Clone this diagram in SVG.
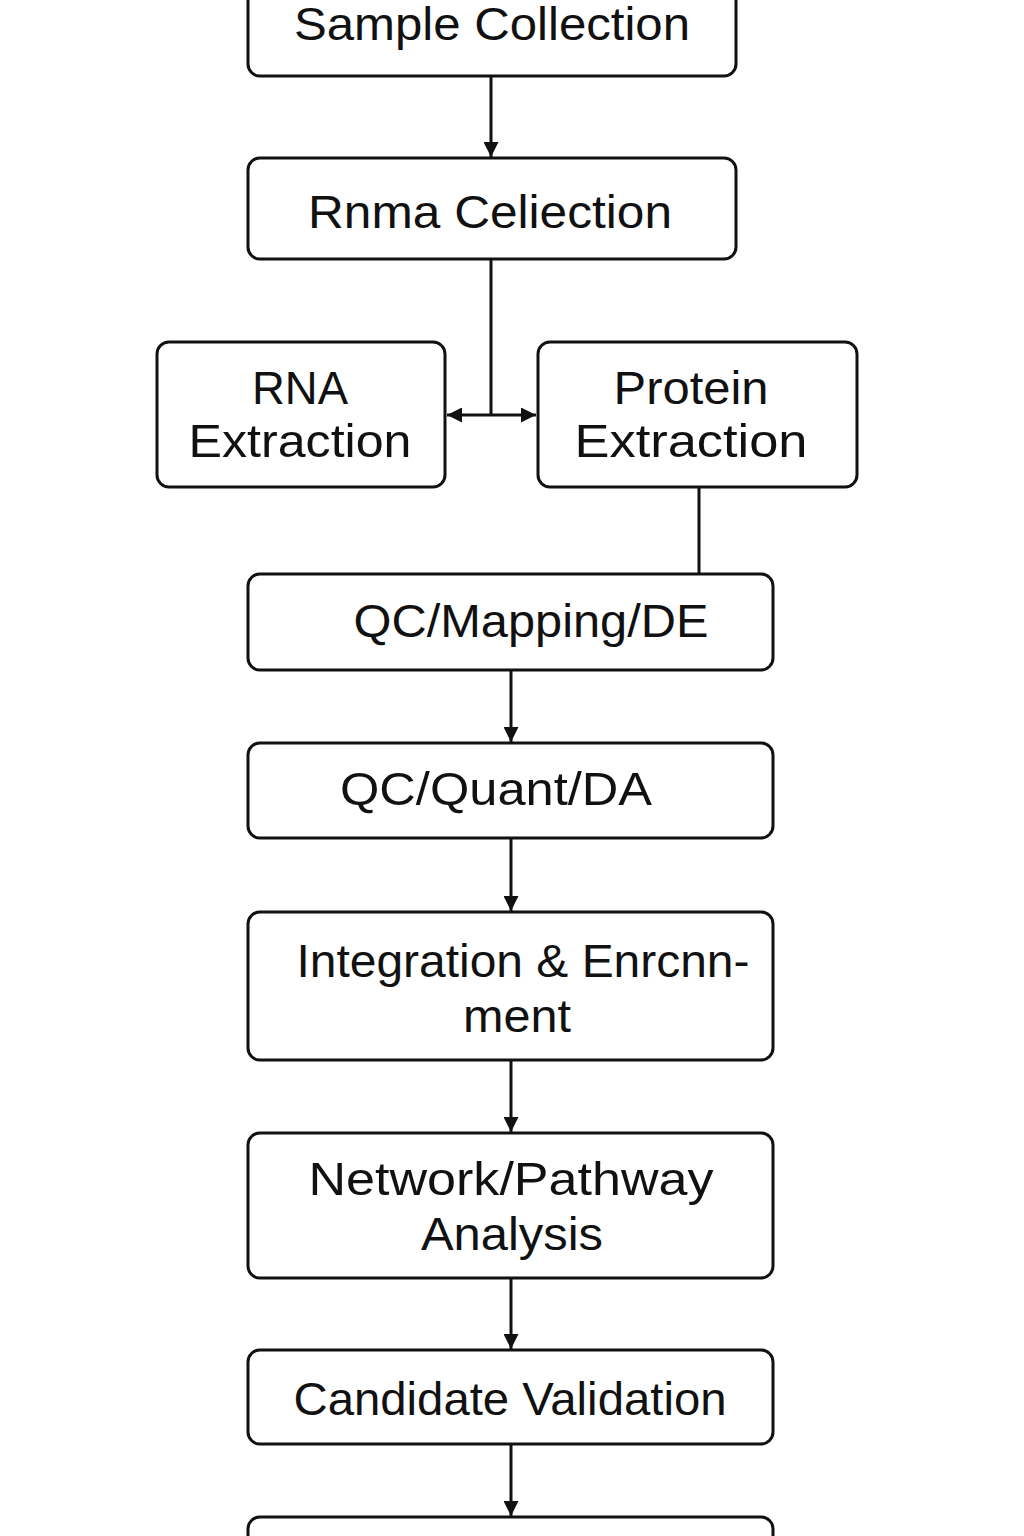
<svg xmlns="http://www.w3.org/2000/svg" width="1024" height="1536" viewBox="0 0 1024 1536">
<defs>
<marker id="ah" viewBox="0 0 10 10" refX="10" refY="5" markerWidth="5" markerHeight="5" markerUnits="strokeWidth" orient="auto-start-reverse">
<path d="M0,0 L10,5 L0,10 z" fill="#111"/>
</marker>
<style>
.box{fill:#fff;stroke:#111;stroke-width:3}
.t{font-family:"Liberation Sans",Arial,sans-serif;font-size:46px;fill:#111;text-anchor:middle}
.c{stroke:#111;stroke-width:3;fill:none}
</style>
</defs>
<rect width="1024" height="1536" fill="#fff"/>
<g id="connectors">
<line class="c" x1="491" y1="76" x2="491" y2="157" marker-end="url(#ah)"/>
<line class="c" x1="491" y1="259" x2="491" y2="415"/>
<line class="c" x1="447" y1="415" x2="536" y2="415" marker-start="url(#ah)" marker-end="url(#ah)"/>
<line class="c" x1="699" y1="487" x2="699" y2="574"/>
<line class="c" x1="511" y1="670" x2="511" y2="742" marker-end="url(#ah)"/>
<line class="c" x1="511" y1="838" x2="511" y2="911" marker-end="url(#ah)"/>
<line class="c" x1="511" y1="1060" x2="511" y2="1132" marker-end="url(#ah)"/>
<line class="c" x1="511" y1="1278" x2="511" y2="1349" marker-end="url(#ah)"/>
<line class="c" x1="511" y1="1444" x2="511" y2="1516" marker-end="url(#ah)"/>
</g>
<g id="sample-collection">
<rect class="box" x="248" y="-20" width="488" height="96" rx="12"/>
<text class="t" x="492" y="40" textLength="396" lengthAdjust="spacingAndGlyphs">Sample Collection</text>
</g>
<g id="rnma-collection">
<rect class="box" x="248" y="158" width="488" height="101" rx="12"/>
<text class="t" x="490" y="228" textLength="364" lengthAdjust="spacingAndGlyphs">Rnma Celiection</text>
</g>
<g id="rna-extraction">
<rect class="box" x="157" y="342" width="288" height="145" rx="12"/>
<text class="t" x="300" y="404" textLength="96" lengthAdjust="spacingAndGlyphs">RNA</text>
<text class="t" x="300" y="457" textLength="223" lengthAdjust="spacingAndGlyphs">Extraction</text>
</g>
<g id="protein-extraction">
<rect class="box" x="538" y="342" width="319" height="145" rx="12"/>
<text class="t" x="691" y="404" textLength="155" lengthAdjust="spacingAndGlyphs">Protein</text>
<text class="t" x="691" y="457" textLength="233" lengthAdjust="spacingAndGlyphs">Extraction</text>
</g>
<g id="qc-mapping-de">
<rect class="box" x="248" y="574" width="525" height="96" rx="12"/>
<text class="t" x="531" y="637" textLength="355" lengthAdjust="spacingAndGlyphs">QC/Mapping/DE</text>
</g>
<g id="qc-quant-da">
<rect class="box" x="248" y="743" width="525" height="95" rx="12"/>
<text class="t" x="496" y="805" textLength="312" lengthAdjust="spacingAndGlyphs">QC/Quant/DA</text>
</g>
<g id="integration-enrichment">
<rect class="box" x="248" y="912" width="525" height="148" rx="12"/>
<text class="t" x="523" y="977" textLength="453" lengthAdjust="spacingAndGlyphs">Integration &amp; Enrcnn-</text>
<text class="t" x="517" y="1032" textLength="108" lengthAdjust="spacingAndGlyphs">ment</text>
</g>
<g id="network-pathway">
<rect class="box" x="248" y="1133" width="525" height="145" rx="12"/>
<text class="t" x="511" y="1195" textLength="405" lengthAdjust="spacingAndGlyphs">Network/Pathway</text>
<text class="t" x="512" y="1250" textLength="182" lengthAdjust="spacingAndGlyphs">Analysis</text>
</g>
<g id="candidate-validation">
<rect class="box" x="248" y="1350" width="525" height="94" rx="12"/>
<text class="t" x="510" y="1415" textLength="433" lengthAdjust="spacingAndGlyphs">Candidate Validation</text>
</g>
<g id="final-node">
<rect class="box" x="248" y="1517" width="525" height="60" rx="12"/>
</g>
</svg>
